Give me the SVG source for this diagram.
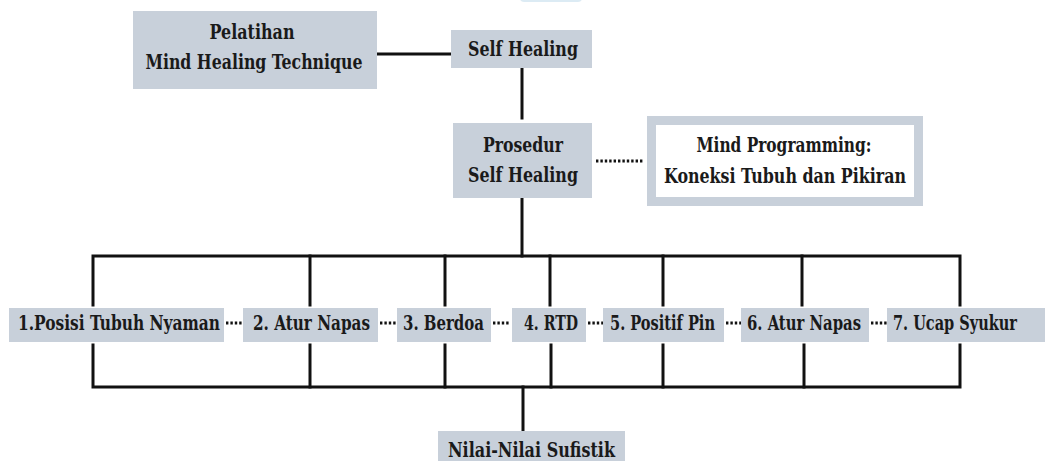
<svg xmlns="http://www.w3.org/2000/svg" width="1049" height="461" viewBox="0 0 1049 461">
<style>
.box{fill:#c8d0da}
.t{font-family:"DejaVu Serif Condensed","DejaVu Serif","Liberation Serif",serif;font-stretch:condensed;font-weight:bold;font-size:20px;fill:#1a1a1a;text-anchor:middle}
.ln{stroke:#111;stroke-width:3;fill:none;stroke-linecap:square}
.dot{stroke:#111;stroke-width:2.8;fill:none;stroke-dasharray:2.4 2}
</style>
<rect width="1049" height="461" fill="#ffffff"/>
<rect x="520" y="-6" width="62" height="8" rx="4" fill="#dcebf4"/>
<g id="connectors">
<line class="ln" x1="377" y1="54" x2="450" y2="54"/>
<line class="ln" x1="522" y1="68" x2="522" y2="118"/>
<line class="dot" x1="596" y1="161" x2="644" y2="161"/>
<line class="ln" x1="522" y1="198" x2="522" y2="256"/>
<polyline class="ln" points="93,305 93,256 960,256 960,305"/>
<line class="ln" x1="310" y1="256" x2="310" y2="305"/>
<line class="ln" x1="445" y1="256" x2="445" y2="305"/>
<line class="ln" x1="550" y1="256" x2="550" y2="305"/>
<line class="ln" x1="663" y1="256" x2="663" y2="305"/>
<line class="ln" x1="802" y1="256" x2="802" y2="305"/>
<polyline class="ln" points="93,345 93,387 960,387 960,345"/>
<line class="ln" x1="310" y1="345" x2="310" y2="387"/>
<line class="ln" x1="445" y1="345" x2="445" y2="387"/>
<line class="ln" x1="551" y1="345" x2="551" y2="387"/>
<line class="ln" x1="663" y1="345" x2="663" y2="387"/>
<line class="ln" x1="804" y1="345" x2="804" y2="387"/>
<line class="ln" x1="523" y1="387" x2="523" y2="430"/>
<line class="dot" x1="226" y1="323" x2="243" y2="323"/>
<line class="dot" x1="380" y1="323" x2="397" y2="323"/>
<line class="dot" x1="493" y1="323" x2="510" y2="323"/>
<line class="dot" x1="588" y1="323" x2="603" y2="323"/>
<line class="dot" x1="726" y1="323" x2="741" y2="323"/>
<line class="dot" x1="871" y1="323" x2="887" y2="323"/>
</g>
<g id="pelatihan">
<rect class="box" x="133" y="11" width="244" height="78"/>
<text class="t" x="252" y="39" textLength="85" lengthAdjust="spacingAndGlyphs">Pelatihan</text>
<text class="t" x="254" y="69" textLength="217" lengthAdjust="spacingAndGlyphs">Mind Healing Technique</text>
</g>
<g id="self-healing">
<rect class="box" x="451" y="30" width="141" height="38"/>
<text class="t" x="523" y="56" textLength="110" lengthAdjust="spacingAndGlyphs">Self Healing</text>
</g>
<g id="prosedur">
<rect class="box" x="453" y="123" width="139" height="75"/>
<text class="t" x="523" y="152" textLength="80" lengthAdjust="spacingAndGlyphs">Prosedur</text>
<text class="t" x="523" y="182" textLength="110" lengthAdjust="spacingAndGlyphs">Self Healing</text>
</g>
<g id="mind-programming">
<rect x="651.5" y="120.5" width="267" height="81" fill="#ffffff" stroke="#c8d0da" stroke-width="9"/>
<text class="t" x="784" y="152" textLength="175" lengthAdjust="spacingAndGlyphs">Mind Programming:</text>
<text class="t" x="785" y="183" textLength="242" lengthAdjust="spacingAndGlyphs">Koneksi Tubuh dan Pikiran</text>
</g>
<g id="step1">
<rect class="box" x="9" y="308" width="215" height="34"/>
<text class="t" x="119" y="330" textLength="202" lengthAdjust="spacingAndGlyphs">1.Posisi Tubuh Nyaman</text>
</g>
<g id="step2">
<rect class="box" x="243" y="308" width="135" height="34"/>
<text class="t" x="311.5" y="330" textLength="117" lengthAdjust="spacingAndGlyphs">2. Atur Napas</text>
</g>
<g id="step3">
<rect class="box" x="397" y="308" width="94" height="34"/>
<text class="t" x="443.5" y="330" textLength="81" lengthAdjust="spacingAndGlyphs">3. Berdoa</text>
</g>
<g id="step4">
<rect class="box" x="512" y="308" width="74" height="34"/>
<text class="t" x="551" y="330" textLength="54" lengthAdjust="spacingAndGlyphs">4. RTD</text>
</g>
<g id="step5">
<rect class="box" x="603" y="308" width="121" height="34"/>
<text class="t" x="662.5" y="330" textLength="105" lengthAdjust="spacingAndGlyphs">5. Positif Pin</text>
</g>
<g id="step6">
<rect class="box" x="741" y="308" width="128" height="34"/>
<text class="t" x="804" y="330" textLength="114" lengthAdjust="spacingAndGlyphs">6. Atur Napas</text>
</g>
<g id="step7">
<rect class="box" x="887" y="308" width="158" height="34"/>
<text class="t" x="955" y="330" textLength="124" lengthAdjust="spacingAndGlyphs">7. Ucap Syukur</text>
</g>
<g id="nilai">
<rect class="box" x="438" y="431" width="187" height="34"/>
<text class="t" x="531.5" y="457" textLength="167" lengthAdjust="spacingAndGlyphs">Nilai-Nilai Sufistik</text>
</g>
</svg>
